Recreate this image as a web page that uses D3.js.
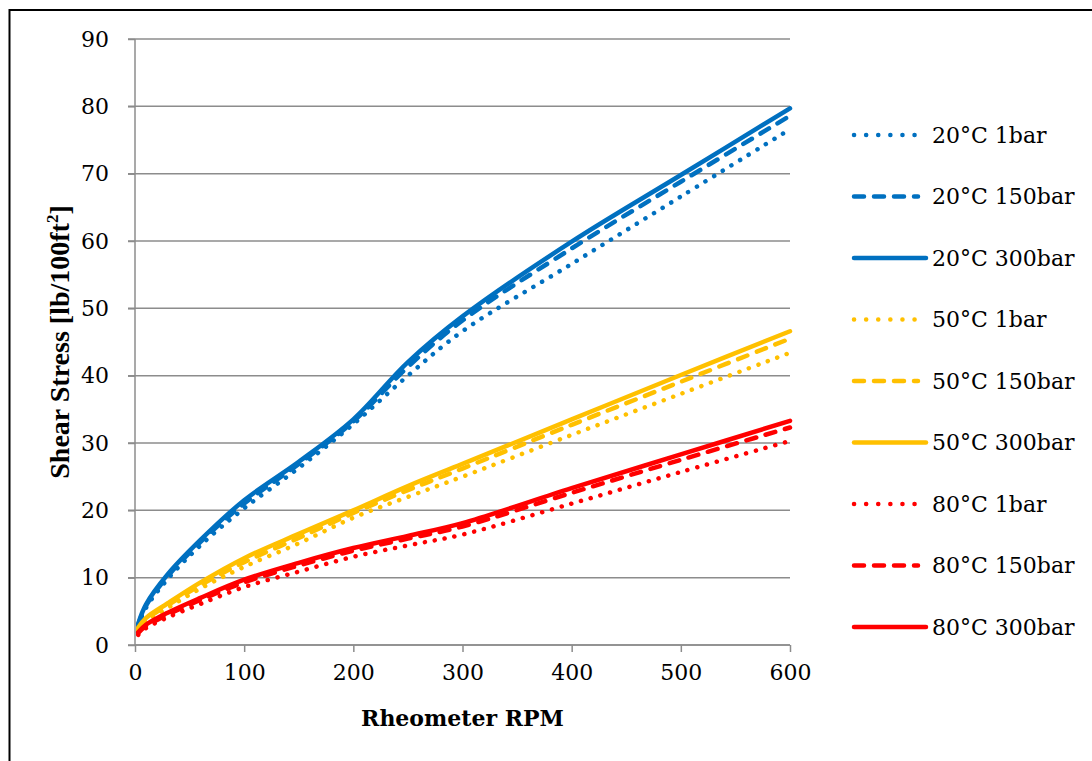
<!DOCTYPE html>
<html>
<head>
<meta charset="utf-8">
<script src="https://cdn.jsdelivr.net/npm/d3@7"></script>
<style>
  body { margin: 0; background: #fff; }
</style>
</head>
<body>
<div id="chart"></div>
<script>
// rheometer speeds (RPM)
var rpm = [3, 10, 30, 60, 100, 150, 200, 250, 300, 400, 500, 600]

// shear stress
var t20_1   = [2.8, 5.5, 9.8, 14.8, 20.3, 26.3, 32.8, 40.0, 46.6, 56.6, 66.6, 76.6]
var t20_150 = [3.0, 5.8, 10.2, 15.3, 21.0, 26.9, 33.2, 41.3, 48.2, 58.9, 68.8, 78.6]
var t20_300 = [3.2, 6.0, 10.5, 15.6, 21.5, 27.2, 33.5, 42.0, 48.8, 59.9, 69.8, 79.7]
var t50_1   = [2.2, 3.5, 5.5, 8.4, 11.6, 15.1, 18.9, 22.0, 25.0, 31.2, 37.3, 43.4]
var t50_150 = [2.4, 3.8, 5.9, 8.9, 12.3, 15.9, 19.6, 23.0, 26.2, 32.7, 39.1, 45.5]
var t50_300 = [2.6, 4.0, 6.2, 9.3, 12.9, 16.5, 20.0, 23.6, 26.9, 33.5, 40.1, 46.6]
var t80_1   = [1.5, 2.5, 4.1, 6.1, 8.6, 10.9, 13.1, 14.8, 16.4, 21.0, 25.7, 30.3]
var t80_150 = [1.8, 2.8, 4.5, 6.7, 9.3, 11.8, 14.0, 15.8, 17.6, 22.6, 27.5, 32.3]
var t80_300 = [1.9, 3.0, 4.8, 7.0, 9.7, 12.2, 14.4, 16.2, 18.1, 23.3, 28.3, 33.3]

var names = ["20°C 1bar", "20°C 150bar", "20°C 300bar",
             "50°C 1bar", "50°C 150bar", "50°C 300bar",
             "80°C 1bar", "80°C 150bar", "80°C 300bar"]
var values = [t20_1, t20_150, t20_300, t50_1, t50_150, t50_300, t80_1, t80_150, t80_300]

var xTicks = [0, 100, 200, 300, 400, 500, 600]
var yTicks = [0, 10, 20, 30, 40, 50, 60, 70, 80, 90]

var colors = ["#0070C0", "#0070C0", "#0070C0", "#FFC000", "#FFC000", "#FFC000", "#FF0000", "#FF0000", "#FF0000"]
var dashes = ["0.1,10", "10,10", null, "0.1,10", "10,10", null, "0.1,10", "10,10", null]

var width = 1092, height = 761
var plot = { left: 135, right: 790, top: 39, bottom: 645 }
var serif = "DejaVu Serif"

var svg = d3.select("#chart")
    .append("svg")
    .attr("width", width)
    .attr("height", height)

// outer frame
svg.append("rect")
    .attr("x", 9.5).attr("y", 10)
    .attr("width", 1100).attr("height", 800)
    .attr("fill", "none")
    .attr("stroke", "#000")
    .attr("stroke-width", 2)

var xScale = d3.scaleLinear().domain([0, 600]).range([plot.left, plot.right])
var yScale = d3.scaleLinear().domain([0, 90]).range([plot.bottom, plot.top])

// gridlines
svg.append("g")
    .selectAll("line")
    .data(yTicks)
    .enter()
    .append("line")
    .attr("x1", plot.left - 7)
    .attr("x2", plot.right)
    .attr("y1", d => yScale(d))
    .attr("y2", d => yScale(d))
    .attr("stroke", "#8c8c8c")
    .attr("stroke-width", 1.5)

// axes
var xaxis = d3.axisBottom(xScale).tickValues(xTicks).tickSize(7).tickPadding(12)
var yaxis = d3.axisLeft(yScale).tickValues(yTicks).tickSize(7).tickPadding(19)

var gx = svg.append("g")
    .attr("transform", "translate(0," + plot.bottom + ")")
    .call(xaxis)
var gy = svg.append("g")
    .attr("transform", "translate(" + plot.left + ",0)")
    .call(yaxis)

;[gx, gy].forEach(g => {
    g.select(".domain").attr("stroke", "#8c8c8c").attr("stroke-width", 1.5)
    g.selectAll(".tick line").attr("stroke", "#8c8c8c").attr("stroke-width", 1.5)
    g.selectAll(".tick text")
        .attr("fill", "#000")
        .attr("font-size", "22px")
        .attr("font-family", serif)
})
gy.select(".domain").attr("d", "M0," + plot.bottom + "V" + plot.top)
gx.select(".domain").attr("d", "M" + plot.left + ",0H" + plot.right)

// axis titles
svg.append("text")
    .attr("x", (plot.left + plot.right) / 2)
    .attr("y", 726)
    .attr("text-anchor", "middle")
    .attr("font-size", "22px")
    .attr("font-weight", "bold")
    .attr("font-family", serif)
    .text("Rheometer RPM")

svg.append("text")
    .attr("transform", "translate(69," + ((plot.top + plot.bottom) / 2) + ") rotate(-90)")
    .attr("text-anchor", "middle")
    .attr("font-size", "28px")
    .attr("font-weight", "bold")
    .attr("font-family", "Liberation Serif")
    .html("Shear Stress [lb/100ft<tspan dy='-11' font-size='17px'>2</tspan><tspan dy='11'>]</tspan>")

// lines
var line = d3.line()
    .x((d, i) => xScale(rpm[i]))
    .y(d => yScale(d))
    .curve(d3.curveCatmullRom.alpha(0.5))

svg.append("g")
    .selectAll("path")
    .data(values)
    .enter()
    .append("path")
    .attr("d", d => line(d))
    .attr("fill", "none")
    .attr("stroke", (d, i) => colors[i])
    .attr("stroke-width", 4.5)
    .attr("stroke-linecap", "round")
    .attr("stroke-dasharray", (d, i) => dashes[i])

// legend
var legend = svg.append("g")
    .selectAll("g")
    .data(names)
    .enter()
    .append("g")
    .attr("transform", (d, i) => "translate(854," + (135 + i * 61.5) + ")")

legend.append("line")
    .attr("x1", 0)
    .attr("x2", (d, i) => dashes[i] ? 64 : 72)
    .attr("stroke", (d, i) => colors[i])
    .attr("stroke-width", 4.5)
    .attr("stroke-linecap", "round")
    .attr("stroke-dasharray", (d, i) => dashes[i] ? dashes[i].replace("0.1,10", "0.1,12") : null)

legend.append("text")
    .attr("x", 78)
    .attr("y", 7.5)
    .attr("font-size", "22px")
    .attr("font-family", serif)
    .text(d => d)
</script>
</body>
</html>
